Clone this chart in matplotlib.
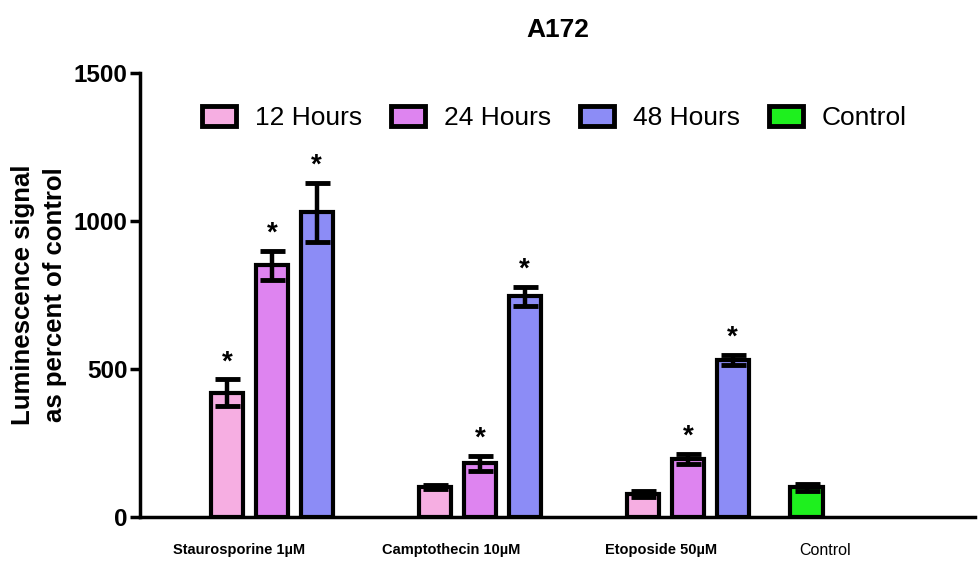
import matplotlib

matplotlib.use("Agg")
import matplotlib.pyplot as plt
from matplotlib.patches import Patch

plt.rcParams["font.family"] = ["Liberation Sans", "DejaVu Sans"]

# luminescence as percent of control, mean and error per treatment/time point
groups = ["Staurosporine 1µM", "Camptothecin 10µM", "Etoposide 50µM"]
hours = ["12 Hours", "24 Hours", "48 Hours"]
mean_12h = [420, 101, 78]
err_12h = [45, 8, 10]
mean_24h = [850, 182, 196]
err_24h = [50, 25, 17]
mean_48h = [1030, 745, 530]
err_48h = [100, 32, 18]
star_12h = [True, False, False]
star_24h = [True, True, True]
star_48h = [True, True, True]
control_label = "Control"
control_mean = 100
control_err = 13

colors = ["#f6aee2", "#de84f0", "#8c8cf6"]
control_color = "#1ef01e"

group_x = [0.0, 1.0, 2.0]
control_x = 2.57
offsets = [-0.215, 0.0, 0.215]
bar_w = 0.155
label_shift = [-0.16, -0.14, -0.13]


def draw_bar(ax, x, value, err, color, star):
    ax.bar(x, value, width=bar_w, color=color, edgecolor="black", linewidth=3, zorder=2)
    ax.errorbar(x, value, yerr=err, fmt="none", ecolor="black", elinewidth=3.2,
                capsize=9, capthick=3.5, zorder=3)
    if star:
        ax.annotate("*", (x, value + err), xytext=(0, 3), textcoords="offset points",
                    ha="center", va="bottom", fontsize=20, fontweight="bold")


fig = plt.figure(figsize=(9.8, 5.65), dpi=100)
ax = fig.add_axes([140 / 980, 1 - 517 / 565, 835 / 980, 444 / 565])

series = [(mean_12h, err_12h, star_12h), (mean_24h, err_24h, star_24h), (mean_48h, err_48h, star_48h)]
for k, (vals, errs, stars) in enumerate(series):
    for g, x0 in enumerate(group_x):
        draw_bar(ax, x0 + offsets[k], vals[g], errs[g], colors[k], stars[g])
draw_bar(ax, control_x, control_mean, control_err, control_color, False)

ax.set_xlim(-0.635, 3.38)
ax.set_ylim(0, 1500)
ax.set_yticks([0, 500, 1000, 1500])
ax.tick_params(axis="y", length=7, width=2.5, labelsize=17.5, pad=2)
for lab in ax.get_yticklabels():
    lab.set_fontweight("bold")
ax.set_xticks([])
for side in ["top", "right"]:
    ax.spines[side].set_visible(False)
ax.spines["left"].set_linewidth(2.5)
ax.spines["bottom"].set_linewidth(2.5)

for g, x0 in enumerate(group_x):
    ax.text(x0 + label_shift[g], -0.075, groups[g], transform=ax.get_xaxis_transform(),
            ha="center", va="center", fontsize=10.5, fontweight="bold")
ax.text(control_x + 0.09, -0.075, control_label, transform=ax.get_xaxis_transform(),
        ha="center", va="center", fontsize=11.5)

ax.set_ylabel("Luminescence signal\nas percent of control", fontsize=18.5,
              fontweight="bold", labelpad=5, linespacing=1.4)
ax.set_title("A172", fontsize=19, fontweight="bold", pad=26)

handles = [Patch(facecolor=c, edgecolor="black", linewidth=3.5) for c in colors]
handles.append(Patch(facecolor=control_color, edgecolor="black", linewidth=3.5))
ax.legend(handles, hours + [control_label], loc="center", bbox_to_anchor=(0.496, 0.899),
          ncol=4, frameon=False, fontsize=19, handlelength=1.3, handleheight=0.8,
          handletextpad=0.7, columnspacing=1.1)

fig.savefig("out.png", dpi=100)
